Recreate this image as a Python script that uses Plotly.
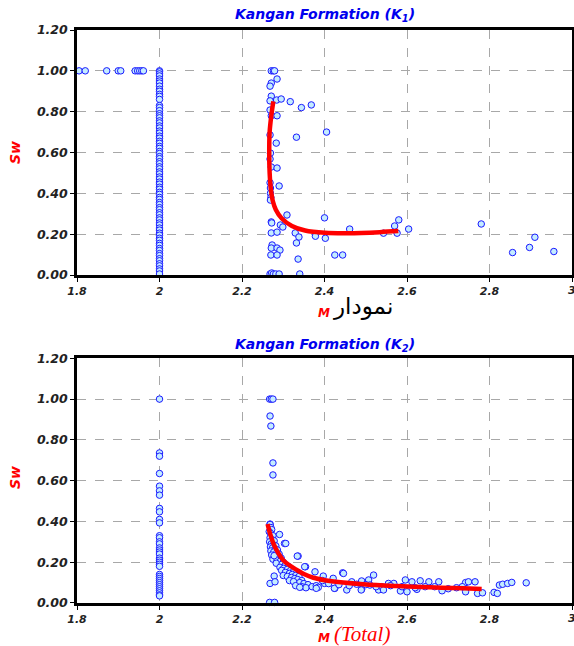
import plotly.graph_objects as go

# ---------------- K1 data ----------------
k1_left_x = [1.805, 1.82, 1.872, 1.90, 1.906, 1.941, 1.947, 1.952, 1.957, 1.961]
k1_left_y = [1.0, 1.0, 1.0, 1.0, 1.0, 1.0, 1.0, 1.0, 1.0, 1.0]

k1_col_y = [1.0, 0.995, 0.985, 0.975, 0.96, 0.95, 0.94, 0.925, 0.91, 0.90, 0.885, 0.875, 0.86,
            0.83, 0.82, 0.805, 0.79, 0.78, 0.77, 0.755, 0.745, 0.73, 0.72, 0.705, 0.695, 0.68,
            0.67, 0.655, 0.645, 0.63, 0.62, 0.605, 0.595, 0.58, 0.57, 0.555, 0.545, 0.53, 0.52,
            0.505, 0.495, 0.48, 0.47, 0.455, 0.445, 0.43, 0.42, 0.405, 0.395, 0.38, 0.37, 0.355,
            0.345, 0.33, 0.32, 0.305, 0.295, 0.28, 0.27, 0.255, 0.245, 0.23, 0.22, 0.205, 0.195,
            0.18, 0.17, 0.155, 0.145, 0.13, 0.12, 0.105, 0.095, 0.08, 0.07, 0.055, 0.045, 0.03,
            0.02, 0.005]

k1_x = [2.271, 2.276, 2.279, 2.285, 2.271, 2.268, 2.271, 2.268, 2.284, 2.295, 2.317,
        2.344, 2.368, 2.268, 2.271, 2.285, 2.405, 2.268, 2.332, 2.283, 2.269, 2.268,
        2.271, 2.285, 2.268, 2.290, 2.269, 2.269, 2.270, 2.269, 2.309, 2.271, 2.272,
        2.293, 2.299, 2.400, 2.271, 2.285, 2.329, 2.338, 2.378, 2.402, 2.461, 2.273,
        2.271, 2.285, 2.292, 2.270, 2.285, 2.332, 2.336, 2.425, 2.444, 2.268, 2.272,
        2.276, 2.282, 2.290, 2.340, 2.543, 2.570, 2.580, 2.576, 2.604, 2.780, 2.856,
        2.897, 2.910, 2.956]
k1_y = [1.0, 1.0, 1.0, 0.96, 0.94, 0.925, 0.876, 0.853, 0.857, 0.862, 0.849,
        0.82, 0.833, 0.808, 0.78, 0.78, 0.70, 0.686, 0.675, 0.646, 0.597, 0.568,
        0.529, 0.524, 0.452, 0.436, 0.426, 0.40, 0.38, 0.367, 0.294, 0.26, 0.255,
        0.245, 0.235, 0.28, 0.206, 0.21, 0.206, 0.186, 0.19, 0.18, 0.225, 0.147,
        0.132, 0.132, 0.122, 0.098, 0.098, 0.157, 0.078, 0.098, 0.098, 0.005, 0.01,
        0.005, 0.005, 0.005, 0.005, 0.205, 0.24, 0.27, 0.205, 0.225, 0.25, 0.11,
        0.135, 0.185, 0.115]

k1_fit_x = [2.276, 2.271, 2.267, 2.266, 2.267, 2.270, 2.275, 2.282, 2.296, 2.321, 2.353,
            2.401, 2.458, 2.534, 2.579]
k1_fit_y = [0.85, 0.78, 0.70, 0.60, 0.50, 0.42, 0.36, 0.32, 0.278, 0.24, 0.218,
            0.207, 0.205, 0.21, 0.215]

# ---------------- K2 data ----------------
k2_col_y = [1.0, 0.736, 0.72, 0.635, 0.573, 0.55, 0.529, 0.464, 0.447, 0.41, 0.393,
            0.33, 0.32, 0.30, 0.29, 0.27, 0.26, 0.25, 0.24, 0.22, 0.21, 0.20, 0.19, 0.18,
            0.14, 0.13, 0.12, 0.11, 0.10, 0.09, 0.08, 0.07, 0.06, 0.05, 0.04, 0.035]

k2_x = [2.267, 2.271, 2.275, 2.268, 2.270, 2.275, 2.275, 2.268, 2.268, 2.267, 2.279,
        2.268, 2.270, 2.272, 2.266, 2.270, 2.275, 2.268, 2.273, 2.278, 2.267, 2.271,
        2.276, 2.282, 2.269, 2.274, 2.280, 2.286, 2.270, 2.277, 2.284, 2.290, 2.272,
        2.281, 2.288, 2.295, 2.275, 2.285, 2.293, 2.300, 2.291, 2.303, 2.336, 2.278,
        2.283, 2.297, 2.305, 2.312, 2.292, 2.301, 2.310, 2.318, 2.325, 2.296, 2.305,
        2.315, 2.322, 2.330, 2.338, 2.300, 2.310, 2.320, 2.328, 2.335, 2.345, 2.315,
        2.325, 2.340, 2.350, 2.360, 2.330, 2.345, 2.355, 2.370, 2.380, 2.278, 2.280,
        2.306, 2.354, 2.397, 2.444, 2.519, 2.340, 2.385, 2.425, 2.490, 2.421, 2.446,
        2.424, 2.454, 2.466, 2.490, 2.507, 2.489, 2.531, 2.555, 2.584, 2.600, 2.478,
        2.510, 2.539, 2.352, 2.377, 2.334, 2.380, 2.400, 2.568, 2.596, 2.612, 2.632,
        2.653, 2.677, 2.742, 2.749, 2.765, 2.624, 2.685, 2.742, 2.771, 2.783, 2.543,
        2.588, 2.644, 2.667, 2.734, 2.824, 2.832, 2.844, 2.854, 2.889, 2.811, 2.819,
        2.395, 2.410, 2.435, 2.460, 2.500, 2.525, 2.560, 2.620, 2.700, 2.720]
k2_y = [1.0, 1.0, 1.0, 0.917, 0.868, 0.687, 0.628, 0.387, 0.096, 0.003, 0.003,
        0.385, 0.37, 0.36, 0.35, 0.34, 0.33, 0.32, 0.31, 0.305, 0.30, 0.29,
        0.285, 0.28, 0.275, 0.27, 0.265, 0.26, 0.255, 0.25, 0.245, 0.24, 0.235,
        0.23, 0.225, 0.22, 0.215, 0.21, 0.205, 0.20, 0.336, 0.292, 0.23, 0.232,
        0.195, 0.19, 0.185, 0.18, 0.175, 0.17, 0.165, 0.16, 0.155, 0.16, 0.15,
        0.145, 0.14, 0.135, 0.13, 0.135, 0.13, 0.125, 0.12, 0.115, 0.11, 0.11,
        0.105, 0.10, 0.095, 0.09, 0.085, 0.08, 0.075, 0.08, 0.085, 0.132, 0.104,
        0.292, 0.178, 0.132, 0.148, 0.137, 0.077, 0.077, 0.072, 0.067, 0.121, 0.145,
        0.072, 0.064, 0.104, 0.108, 0.113, 0.064, 0.064, 0.096, 0.059, 0.055, 0.092,
        0.088, 0.08, 0.178, 0.153, 0.23, 0.072, 0.096, 0.096, 0.113, 0.104, 0.109,
        0.104, 0.104, 0.10, 0.104, 0.104, 0.067, 0.06, 0.055, 0.047, 0.05, 0.064,
        0.08, 0.08, 0.08, 0.08, 0.088, 0.092, 0.096, 0.101, 0.099, 0.052, 0.047,
        0.11, 0.095, 0.09, 0.085, 0.09, 0.08, 0.085, 0.075, 0.07, 0.075]

k2_fit_x = [2.262, 2.268, 2.276, 2.288, 2.300, 2.315, 2.333, 2.350, 2.373, 2.413, 2.494,
            2.575, 2.655, 2.736, 2.781]
k2_fit_y = [0.387, 0.34, 0.293, 0.245, 0.21, 0.185, 0.162, 0.142, 0.124, 0.108, 0.092,
            0.083, 0.077, 0.072, 0.069]

titles = ["Kangan Formation (K<sub>1</sub>)", "Kangan Formation (K<sub>2</sub>)"]
y_title = "Sw"
x_ticks = [1.8, 2.0, 2.2, 2.4, 2.6, 2.8, 3.0]
x_tick_text = ["1.8", "2", "2.2", "2.4", "2.6", "2.8", "3"]
y_ticks = [0.0, 0.2, 0.4, 0.6, 0.8, 1.0, 1.2]

# ---------------- figure ----------------
mk = dict(symbol="circle", size=6.5, color="#c4ecff", line=dict(color="#1a1aff", width=1))
fig = go.Figure()

fig.add_trace(go.Scatter(x=k1_left_x, y=k1_left_y, mode="markers", marker=mk,
                         xaxis="x", yaxis="y", cliponaxis=False))
fig.add_trace(go.Scatter(x=[2.0] * len(k1_col_y), y=k1_col_y, mode="markers", marker=mk,
                         xaxis="x", yaxis="y", cliponaxis=False))
fig.add_trace(go.Scatter(x=k1_x, y=k1_y, mode="markers", marker=mk,
                         xaxis="x", yaxis="y", cliponaxis=False))
fig.add_trace(go.Scatter(x=k1_fit_x, y=k1_fit_y, mode="lines", line=dict(color="#ff0000", width=4.5, shape="spline"),
                         xaxis="x", yaxis="y"))

fig.add_trace(go.Scatter(x=[2.0] * len(k2_col_y), y=k2_col_y, mode="markers", marker=mk,
                         xaxis="x2", yaxis="y2", cliponaxis=False))
fig.add_trace(go.Scatter(x=k2_x, y=k2_y, mode="markers", marker=mk,
                         xaxis="x2", yaxis="y2", cliponaxis=False))
fig.add_trace(go.Scatter(x=k2_fit_x, y=k2_fit_y, mode="lines", line=dict(color="#ff0000", width=4.5, shape="spline"),
                         xaxis="x2", yaxis="y2"))

FONT = "DejaVu Sans, Verdana, Arial"
xtickfont = dict(family=FONT, size=11, color="#222", weight="bold", style="italic")
ytickfont = dict(family=FONT, size=12.5, color="#222", weight="bold", style="italic")
axis_common = dict(showline=True, linecolor="black", linewidth=2.5, mirror=True,
                   showgrid=True, gridcolor="#a8a8a8", griddash="dash", gridwidth=1,
                   zeroline=False, ticks="outside", ticklen=4, tickcolor="black",
                   fixedrange=True, automargin=False)

xa = dict(axis_common, range=[1.8, 3.0], tickvals=x_ticks, tickfont=xtickfont,
          ticktext=x_tick_text)
ya = dict(axis_common, range=[0, 1.2], tickvals=y_ticks, tickfont=ytickfont,
          ticktext=[f"{v:.2f}" for v in y_ticks])

top_dom = [0.5724, 1.0]
bot_dom = [0.0, 0.427]

fig.update_layout(
    width=574, height=646,
    margin=dict(l=77, r=2, t=30, b=43),
    paper_bgcolor="white", plot_bgcolor="white",
    showlegend=False,
    xaxis=dict(xa, domain=[0, 1], anchor="y"),
    yaxis=dict(ya, domain=top_dom, anchor="x"),
    xaxis2=dict(xa, domain=[0, 1], anchor="y2"),
    yaxis2=dict(ya, domain=bot_dom, anchor="x2"),
)

title_font = dict(family=FONT, size=14, color="#0000ee", weight="bold", style="italic")
red_font = dict(family=FONT, size=14, color="#ff0000", weight="bold", style="italic")
annotations = []
for txt, ypx in ((titles[0], 15), (titles[1], 345)):
    annotations.append(dict(text=txt, xref="paper", x=0.5, yref="paper",
                            y=(603 - ypx) / 573, showarrow=False, font=title_font,
                            xanchor="center", yanchor="middle"))
for ypx in (153, 478):
    annotations.append(dict(text=y_title, xref="paper", x=(15 - 77) / 495, yref="paper",
                            y=(603 - ypx) / 573, showarrow=False, font=red_font, textangle=-90,
                            xanchor="center", yanchor="middle"))
# last x tick label "3" (partly cut at the right edge, as in the original)
for ypx in (290, 618):
    annotations.append(dict(text=x_tick_text[-1], xref="x", x=x_ticks[-1], yref="paper",
                            y=(603 - ypx) / 573, showarrow=False, font=xtickfont,
                            xanchor="center", yanchor="middle"))
m_font = dict(family=FONT, size=12, color="#ff0000", weight="bold", style="italic")
# top x title: M + Arabic word
annotations.append(dict(text="M", xref="paper", x=(324 - 77) / 495, yref="paper",
                        y=(603 - 313) / 573, showarrow=False, font=m_font,
                        xanchor="center", yanchor="middle"))
annotations.append(dict(text="نمودار", xref="paper", x=(331 - 77) / 495, yref="paper",
                        y=(603 - 306) / 573, showarrow=False,
                        font=dict(family="DejaVu Serif, DejaVu Sans", size=23, color="black"),
                        xanchor="left", yanchor="middle"))
# bottom x title
annotations.append(dict(text="M", xref="paper", x=(324 - 77) / 495, yref="paper",
                        y=(603 - 638) / 573, showarrow=False, font=m_font,
                        xanchor="center", yanchor="middle"))
annotations.append(dict(text="(Total)", xref="paper", x=(332 - 77) / 495, yref="paper",
                        y=(603 - 634) / 573, showarrow=False,
                        font=dict(family="Liberation Serif, Times New Roman", size=21, color="#ff0000", style="italic"),
                        xanchor="left", yanchor="middle"))
fig.update_layout(annotations=annotations)

fig.write_html("out.html", config={"displayModeBar": False},
               post_script="document.body.style.margin='0px';document.body.style.overflow='hidden';")
